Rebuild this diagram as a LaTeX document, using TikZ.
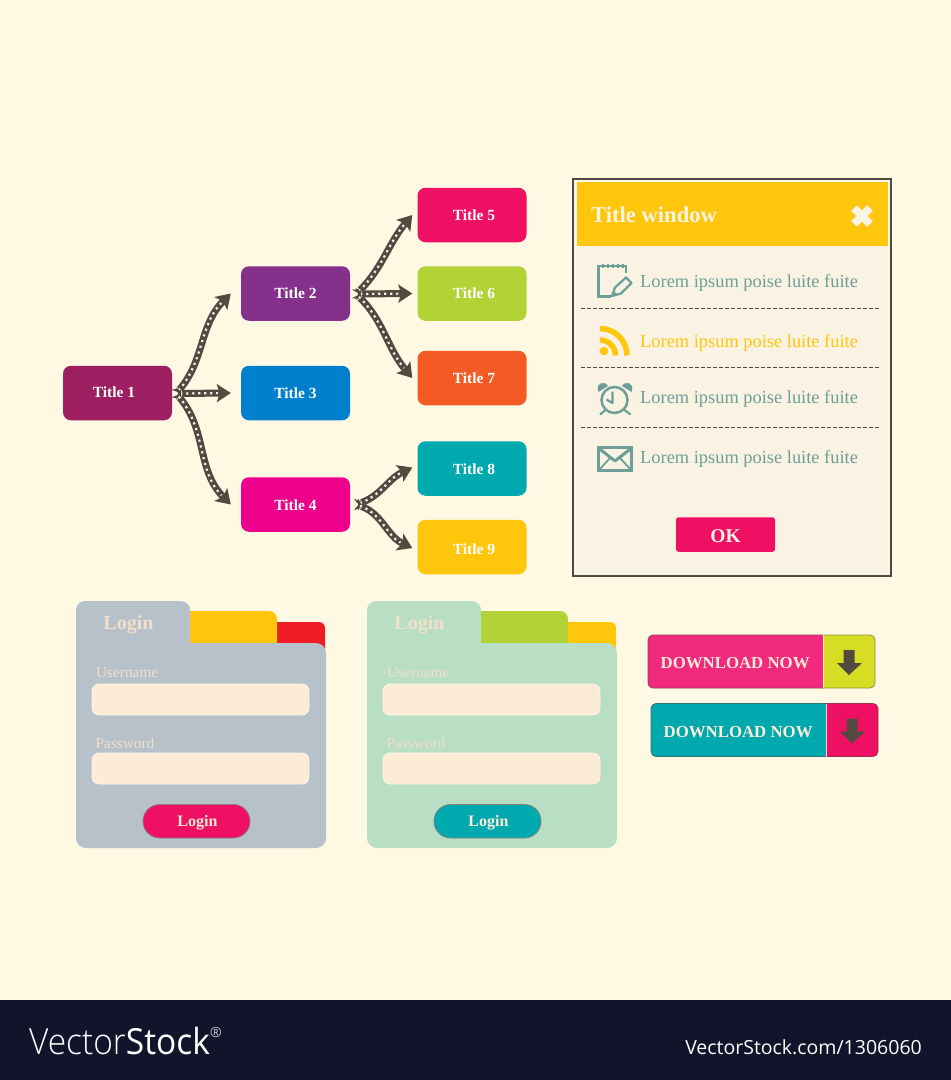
\documentclass[tikz,border=0pt]{standalone}
\usepackage{fontspec}
\setmainfont{Liberation Serif}
\newfontfamily\logofont[UprightFont=* Light,BoldFont=*]{Open Sans}
\newfontfamily\urlfont{Open Sans}
\usetikzlibrary{arrows.meta,calc}
\definecolor{bgcol}{HTML}{FFF9E3}
\definecolor{footcol}{HTML}{11142A}
\definecolor{brn}{HTML}{54493F}
\definecolor{wincol}{HTML}{FAF3E3}
\definecolor{tealic}{HTML}{6B9F98}
\definecolor{amber}{HTML}{FFC60B}
\definecolor{rosered}{HTML}{EF1063}
\definecolor{aqua}{HTML}{00A9AE}
\definecolor{cream}{HTML}{FEEBD6}
\definecolor{labelc}{HTML}{F3E0CB}
\definecolor{slatep}{HTML}{B6C1CA}
\definecolor{mintp}{HTML}{B8DEC3}
\definecolor{lime}{HTML}{B2D235}
\definecolor{redtab}{HTML}{EF1C25}
\definecolor{pinkb}{HTML}{F22A7D}
\definecolor{yellowb}{HTML}{D6DE23}
\newcommand{\fs}[1]{\fontsize{#1}{#1}\selectfont}
\newcommand{\tx}[2]{\raisebox{#1}[10pt][0pt]{#2}}
\tikzset{
  x=1pt,y=-1pt,
  tbox/.style={rounded corners=8pt,minimum width=109pt,minimum height=54.5pt,inner sep=0pt,
    text=white,font=\fs{15.5}\bfseries},
  flow/.style={line width=7pt,color=brn,
    {Stealth[reversed,length=7pt,width=12pt,inset=2pt]}-{Stealth[length=14pt,width=18pt,inset=3pt]},
    postaction={draw=white!92!brn,arrows=-,line width=2.2pt,dash pattern=on 2.2pt off 3.8pt,shorten >=13pt,shorten <=4pt}},
  lorem/.style={anchor=base west,inner sep=0pt,font=\fs{18.4}},
  sep/.style={brn,line width=1.6pt,dash pattern=on 4pt off 2pt},
  fieldbox/.style={fill=cream,draw=white!55!cream,line width=0.8pt,rounded corners=7pt},
  lab/.style={anchor=base west,inner sep=0pt,text=labelc,font=\fs{15.3}},
  icon/.style={tealic,line width=2.5pt},
  dl/.style={anchor=base west,inner sep=0pt,text=cream,font=\fs{16.8}\bfseries},
}
% #1 shift, #2 back tab, #3 middle tab, #4 panel, #5 button
\newcommand{\loginpanel}[5]{%
  \begin{scope}[xshift=#1pt]
    \fill[#2,rounded corners=6pt] (270,660) -- (270,622) -- (325,622) -- (325,660) -- cycle;
    \fill[#3,rounded corners=8pt] (180,660) -- (180,611) -- (277,611) -- (277,660) -- cycle;
    \fill[#4,rounded corners=9pt] (76,670) -- (76,601) -- (190,601) -- (190,670) -- cycle;
    \fill[#4] (180,630) rectangle (190,670);
    \fill[#4,rounded corners=10pt] (76,643) rectangle (326,848);
    \node[anchor=base,inner sep=0pt,text=labelc,font=\fs{20}\bfseries] (tab#1) at (128.5,629) {Login};
    \node[lab] (user#1) at (96,677) {Username};
    \filldraw[fieldbox] (92,684) rectangle (309,715);
    \node[lab] (pass#1) at (95.5,748) {Password};
    \filldraw[fieldbox] (92,753) rectangle (309,784);
    \filldraw[fill=#5,draw=brn!70,line width=0.7pt,rounded corners=16.5pt] (143,804.5) rectangle (250,838);
    \node[anchor=base,inner sep=0pt,text=cream,font=\fs{16}\bfseries] (go#1) at (197.5,826) {Login};
  \end{scope}}
% #1 x, #2 y, #3 left colour, #4 right colour, #5 id
\newcommand{\dlbutton}[5]{%
  \begin{scope}[shift={(#1,#2)}]
    \fill[#4,rounded corners=5pt] (0,0) rectangle (227,53);
    \fill[#3,rounded corners=5pt] (175,53) -- (0,53) -- (0,0) -- (175,0);
    \fill[#3] (165,0) rectangle (175,53);
    \draw[brn!55!#3,line width=0.8pt,rounded corners=5pt] (175,0) -- (0,0) -- (0,53) -- (175,53);
    \draw[brn!55!#4,line width=0.8pt,rounded corners=5pt] (175,0) -- (227,0) -- (227,53) -- (175,53);
    \draw[white!80!#4,line width=0.9pt] (175.5,0) -- (175.5,53);
    \node[dl] (dltext#5) at (12.5,33.5) {DOWNLOAD NOW};
    \fill[brn] (195.5,15) -- (206.5,15) -- (206.5,28) -- (214,28) -- (201,40) -- (189,28) -- (195.5,28) -- cycle;
  \end{scope}}
\begin{document}
\begin{tikzpicture}
\useasboundingbox (0,0) rectangle (951,1080);
\fill[bgcol] (0,0) rectangle (951,1080);
\fill[footcol] (0,1000) rectangle (951,1080);
% --- tree
\node[tbox,fill={rgb,255:red,158;green,30;blue,98}] (t1) at (117.5,393) {\tx{1pt}{Title 1}\kern7pt};
\node[tbox,fill={rgb,255:red,131;green,49;blue,138}] (t2) at (295.5,293.5) {\tx{0pt}{Title 2}};
\node[tbox,fill={rgb,255:red,0;green,128;blue,204}] (t3) at (295.5,393) {\tx{0pt}{Title 3}};
\node[tbox,fill={rgb,255:red,236;green,0;blue,140}] (t4) at (295.5,504.5) {\tx{-0.5pt}{Title 4}};
\node[tbox,fill=rosered] (t5) at (472,215) {\kern4pt \tx{0pt}{Title 5}};
\node[tbox,fill=lime] (t6) at (472,293.5) {\kern4pt \tx{0pt}{Title 6}};
\node[tbox,fill={rgb,255:red,244;green,91;blue,36}] (t7) at (472,378) {\kern4pt \tx{0pt}{Title 7}};
\node[tbox,fill=aqua] (t8) at (472,468.5) {\kern4pt \tx{-0.5pt}{Title 8}};
\node[tbox,fill=amber] (t9) at (472,547) {\kern4pt \tx{-2pt}{Title 9}};
\coordinate (s1) at ($(t1.east)+(4,0.5)$);
\coordinate (s2) at ($(t2.east)+(6,0.5)$);
\coordinate (s4) at ($(t4.east)+(6,0)$);
\draw[flow] (s1) to[out=50,in=225] ($(t2.west)+(-10,0)$);
\draw[flow] (s1) -- ($(t3.west)+(-10,0)$);
\draw[flow] (s1) to[out=-50,in=135] ($(t4.west)+(-10,0)$);
\draw[flow] (s2) to[out=45,in=230] ($(t5.west)+(-5,0)$);
\draw[flow] (s2) -- ($(t6.west)+(-5,0)$);
\draw[flow] (s2) to[out=-45,in=130] ($(t7.west)+(-5,0)$);
\draw[flow] (s4) to[out=20,in=205] ($(t8.west)+(-5,-1)$);
\draw[flow] (s4) to[out=-20,in=155] ($(t9.west)+(-5,1)$);
% --- window
\filldraw[fill=wincol,draw=brn,line width=2pt] (573,179) rectangle (891,576);
\draw[white!60!wincol,line width=1pt] (575.5,181.5) rectangle (888.5,573.5);
\fill[amber] (577,182) rectangle (888,246);
\node[anchor=base west,inner sep=0pt,text=wincol,font=\fs{22.6}\bfseries] (wtitle) at (591,222) {Title window};
\draw[wincol,line width=8pt] (854,208) -- (870,224) (870,208) -- (854,224);
\node[lorem,text=tealic] (l1) at (640,287) {Lorem ipsum poise luite fuite};
\node[lorem,text=amber] (l2) at (640,347) {Lorem ipsum poise luite fuite};
\node[lorem,text=tealic] (l3) at (640,403) {Lorem ipsum poise luite fuite};
\node[lorem,text=tealic] (l4) at (640,463) {Lorem ipsum poise luite fuite};
\draw[sep] (581,308.5) -- (880,308.5);
\draw[sep] (581,367.5) -- (880,367.5);
\draw[sep] (581,427.5) -- (880,427.5);
\draw[white!50!wincol,line width=0.8pt,dash pattern=on 48pt off 3pt] (581,485.5) -- (880,485.5);
\node[fill=rosered,rounded corners=2.5pt,minimum width=99pt,minimum height=34.5pt,inner sep=0pt,text=wincol,font=\fs{19.5}\bfseries] (ok) at (725.5,534.5) {\raisebox{-1.5pt}[13pt][0pt]{OK}};
% notepad
\draw[icon] (626,273) -- (626,266) -- (598.5,266) -- (598.5,296.5) -- (611,296.5);
\foreach \i in {603,608,613,618,623} \draw[tealic,line width=1.5pt] (\i,264) -- (\i,268);
\draw[tealic,line width=2.2pt,line join=round] (612,296) -- (615,287.5) -- (626,277.5) -- (631.5,283) -- (621,293.5) -- cycle;
\fill[tealic] (612,296.5) -- (613.5,290.5) -- (618,295) -- cycle;
% rss
\fill[amber] (604,351) circle[radius=4.3pt];
\draw[amber,line width=5.5pt] (600,328.5) arc[start angle=90,end angle=0,radius=27pt];
\draw[amber,line width=5.5pt] (600,340) arc[start angle=90,end angle=0,radius=15.5pt];
% clock
\draw[icon] (614.5,400) circle[radius=13pt];
\draw[tealic,line width=2.2pt,line join=round] (612.5,391.5) -- (612.5,403) -- (606.5,399.5);
\fill[tealic] (598.5,392) .. controls (595,383) and (604,380) .. (608,386) -- cycle;
\fill[tealic] (631.5,392) .. controls (635,383) and (626,380) .. (622,386) -- cycle;
\draw[tealic,line width=2.2pt] (605.5,410) -- (600,414.5) (624.5,410) -- (630.5,414.5);
% mail
\filldraw[fill=wincol,draw=tealic,line width=3pt] (598.5,447.5) rectangle (631.5,470.5);
\draw[tealic,line width=3pt,line join=round] (599,448.5) -- (615,461) -- (631,448.5);
\draw[tealic,line width=1.8pt] (599,470) -- (610,458) (631,470) -- (620,458);
% --- login panels
\loginpanel{0}{redtab}{amber}{slatep}{rosered}
\loginpanel{291}{amber}{lime}{mintp}{aqua}
% --- download buttons
\dlbutton{648}{635}{pinkb}{yellowb}{a}
\dlbutton{651}{703.5}{aqua}{rosered}{b}
% --- footer
\node[anchor=base west,inner sep=0pt,text=white,font={\logofont\fs{36}}] (logo) at (29,1054) {\scalebox{.93}[1]{Vector\textbf{Stock}}};
\node[anchor=base west,inner sep=0pt,text=white,font={\logofont\fs{14}}] (logor) at (210,1037) {®};
\node[anchor=base east,inner sep=0pt,text=white,font={\urlfont\fs{19.5}}] (url) at (922,1054) {VectorStock.com/1306060};
\end{tikzpicture}
\end{document}
